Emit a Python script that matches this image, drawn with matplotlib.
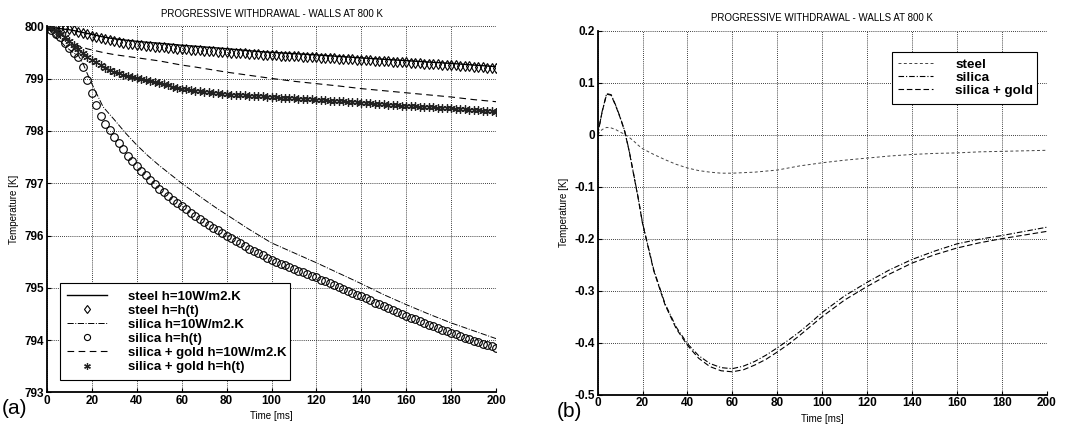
import matplotlib
matplotlib.use("Agg")
import matplotlib.pyplot as plt
from matplotlib.ticker import FuncFormatter

plt.rcParams['font.family'] = ['Liberation Sans', 'DejaVu Sans']
plt.rcParams['axes.unicode_minus'] = False

# ---------------- data ----------------
t_mark = list(range(0, 201, 2))
t_line = [0, 2, 4, 6, 8, 10, 12, 14, 16, 18, 20, 25, 30, 35, 40, 45, 50, 55, 60, 65,
          70, 75, 80, 85, 90, 95, 100, 110, 120, 130, 140, 150, 160, 170, 180, 190, 200]

steel_h10 = [800.0, 799.985, 799.97, 799.957, 799.945, 799.935, 799.92, 799.90, 799.882,
             799.865, 799.847, 799.798, 799.763, 799.737, 799.714, 799.694, 799.677,
             799.659, 799.639, 799.623, 799.607, 799.59, 799.573, 799.554, 799.535,
             799.517, 799.504, 799.479, 799.455, 799.426, 799.398, 799.371, 799.345,
             799.318, 799.292, 799.261, 799.23]

steel_ht = [800.00, 799.995, 799.985, 799.975, 799.96, 799.945, 799.925, 799.90, 799.875,
            799.85, 799.825, 799.80, 799.775, 799.755, 799.735, 799.715, 799.70, 799.685,
            799.672, 799.66, 799.65, 799.64, 799.63, 799.62, 799.612, 799.605, 799.597,
            799.59, 799.582, 799.574, 799.566, 799.56, 799.553, 799.547, 799.541, 799.535,
            799.529, 799.523, 799.517, 799.511, 799.505, 799.50, 799.494, 799.488, 799.482,
            799.476, 799.47, 799.465, 799.46, 799.455, 799.45, 799.446, 799.442, 799.438,
            799.434, 799.43, 799.426, 799.422, 799.418, 799.414, 799.41, 799.405, 799.40,
            799.395, 799.39, 799.385, 799.38, 799.375, 799.37, 799.365, 799.36, 799.355,
            799.35, 799.345, 799.34, 799.335, 799.33, 799.325, 799.32, 799.315, 799.31,
            799.305, 799.30, 799.295, 799.29, 799.285, 799.28, 799.275, 799.27, 799.265,
            799.26, 799.254, 799.248, 799.242, 799.236, 799.23, 799.224, 799.218, 799.212,
            799.206, 799.20]

silica_h10 = [800.0, 799.885, 799.78, 799.715, 799.625, 799.555, 799.49, 799.44, 799.295,
              799.09, 798.90, 798.46, 798.215, 797.96, 797.73, 797.525, 797.34, 797.17,
              797.00, 796.845, 796.69, 796.54, 796.40, 796.26, 796.12, 795.99, 795.86,
              795.67, 795.48, 795.28, 795.08, 794.87, 794.68, 794.50, 794.33, 794.18, 794.03]

silica_ht = [800.00, 799.93, 799.86, 799.79, 799.68, 799.59, 799.50, 799.41, 799.22, 798.97,
             798.73, 798.50, 798.28, 798.13, 798.01, 797.89, 797.77, 797.65, 797.53, 797.42,
             797.33, 797.24, 797.15, 797.06, 796.98, 796.90, 796.83, 796.76, 796.69, 796.62,
             796.56, 796.50, 796.44, 796.38, 796.32, 796.26, 796.21, 796.15, 796.10, 796.05,
             796.00, 795.95, 795.90, 795.85, 795.80, 795.75, 795.71, 795.66, 795.62, 795.57,
             795.53, 795.50, 795.46, 795.43, 795.39, 795.36, 795.33, 795.30, 795.26, 795.23,
             795.20, 795.16, 795.13, 795.09, 795.05, 795.02, 794.98, 794.94, 794.91, 794.87,
             794.84, 794.80, 794.76, 794.72, 794.69, 794.65, 794.61, 794.57, 794.54, 794.50,
             794.47, 794.43, 794.40, 794.37, 794.33, 794.30, 794.27, 794.24, 794.20, 794.17,
             794.14, 794.11, 794.08, 794.05, 794.02, 793.99, 793.96, 793.93, 793.90, 793.88,
             793.85]

gold_h10 = [800.0, 799.93, 799.85, 799.79, 799.75, 799.70, 799.66, 799.63, 799.60, 799.57,
            799.55, 799.50, 799.46, 799.43, 799.40, 799.37, 799.34, 799.30, 799.26, 799.23,
            799.195, 799.16, 799.125, 799.095, 799.065, 799.035, 799.005, 798.95, 798.905,
            798.86, 798.81, 798.77, 798.73, 798.69, 798.65, 798.60, 798.56]

gold_ht = [800.00, 799.97, 799.92, 799.86, 799.80, 799.72, 799.64, 799.57, 799.50, 799.42,
           799.36, 799.31, 799.26, 799.21, 799.17, 799.13, 799.10, 799.07, 799.05, 799.03,
           799.01, 798.99, 798.97, 798.95, 798.93, 798.91, 798.89, 798.87, 798.85, 798.83,
           798.81, 798.80, 798.78, 798.77, 798.76, 798.75, 798.74, 798.73, 798.72, 798.71,
           798.70, 798.695, 798.69, 798.685, 798.68, 798.675, 798.67, 798.665, 798.66, 798.655,
           798.645, 798.641, 798.637, 798.633, 798.629, 798.625, 798.62, 798.615, 798.61, 798.605,
           798.60, 798.594, 798.588, 798.582, 798.576, 798.57, 798.564, 798.558, 798.552, 798.546,
           798.54, 798.534, 798.528, 798.522, 798.516, 798.51, 798.504, 798.498, 798.492, 798.486,
           798.48, 798.475, 798.47, 798.465, 798.46, 798.455, 798.45, 798.445, 798.44, 798.435,
           798.43, 798.424, 798.418, 798.412, 798.406, 798.40, 798.394, 798.388, 798.382, 798.376,
           798.37]

steel_diff = [0.0, 0.010, 0.014, 0.013, 0.010, 0.005, 0.001, -0.005, -0.012, -0.020, -0.027,
              -0.038, -0.048, -0.057, -0.064, -0.069, -0.072, -0.074, -0.074, -0.073, -0.072,
              -0.070, -0.068, -0.064, -0.060, -0.057, -0.054, -0.049, -0.045, -0.041, -0.038,
              -0.036, -0.035, -0.033, -0.032, -0.031, -0.030]
silica_diff = [0.0, 0.045, 0.079, 0.077, 0.057, 0.034, 0.008, -0.030, -0.075, -0.120, -0.170,
               -0.260, -0.325, -0.370, -0.402, -0.425, -0.440, -0.448, -0.450, -0.445, -0.436,
               -0.424, -0.410, -0.395, -0.379, -0.361, -0.342, -0.310, -0.284, -0.260, -0.240,
               -0.224, -0.210, -0.201, -0.194, -0.186, -0.178]
gold_diff = [0.0, 0.044, 0.078, 0.076, 0.056, 0.033, 0.007, -0.031, -0.076, -0.121, -0.171,
             -0.262, -0.327, -0.373, -0.405, -0.430, -0.446, -0.454, -0.456, -0.452, -0.443,
             -0.432, -0.418, -0.403, -0.386, -0.368, -0.350, -0.318, -0.292, -0.268, -0.247,
             -0.231, -0.218, -0.208, -0.200, -0.193, -0.186]

x_ticks = list(range(0, 201, 20))
ya_ticks = [793, 794, 795, 796, 797, 798, 799, 800]
yb_ticks = [-0.5, -0.4, -0.3, -0.2, -0.1, 0.0, 0.1, 0.2]

title = 'PROGRESSIVE WITHDRAWAL - WALLS AT 800 K'

# ---------------- figure ----------------
fig = plt.figure(figsize=(10.73, 4.29), dpi=100)
axA = fig.add_axes([0.0438, 0.0851, 0.4185, 0.8534])
axB = fig.add_axes([0.5570, 0.0800, 0.4184, 0.8484])

ASTERISK = (6, 2, 0)


def style(ax):
    for s in ['top', 'right']:
        ax.spines[s].set_visible(False)
    for s in ['left', 'bottom']:
        ax.spines[s].set_linewidth(1.3)
    ax.grid(True, linestyle=(0, (1, 1.5)), color='black', linewidth=0.6)
    ax.tick_params(direction='in', length=3, width=0.8, labelsize=8.5, pad=2)
    for lab in ax.get_xticklabels() + ax.get_yticklabels():
        lab.set_fontweight('bold')
    ax.set_xlim(0, 200)
    ax.set_xticks(x_ticks)


# ---- panel (a) ----
ax = axA
ax.plot(t_line, steel_h10, '-', color='black', lw=1.0, label='steel h=10W/m2.K')
ax.plot(t_mark, steel_ht, 'd', mfc='none', mec='black', ms=5.5, mew=0.8, label='steel h=h(t)')
ax.plot(t_line, silica_h10, '-.', color='black', lw=0.7, label='silica h=10W/m2.K')
ax.plot(t_mark, silica_ht, 'o', mfc='none', mec='black', ms=5.5, mew=0.8, label='silica h=h(t)')
ax.plot(t_line, gold_h10, '--', color='black', lw=0.8, dashes=(6, 4), label='silica + gold h=10W/m2.K')
ax.plot(t_mark, gold_ht, marker=ASTERISK, linestyle='none', color='#222222', ms=6, mew=0.9,
        label='silica + gold h=h(t)')
ax.set_ylim(793, 800)
ax.set_yticks(ya_ticks)
ax.yaxis.set_major_formatter(FuncFormatter(lambda v, p: '%d' % round(v)))
style(ax)
ax.set_title(title, fontsize=7, pad=7)
ax.set_xlabel('Time [ms]', fontsize=7, labelpad=3)
ax.set_ylabel('Temperature [K]', fontsize=7, labelpad=4)
legA = ax.legend(loc='lower left', bbox_to_anchor=(0.029, 0.033, 0.512, 0.328), mode='expand',
                 fontsize=9.5, frameon=True, fancybox=False, edgecolor='black', framealpha=1,
                 handlelength=3.0, handletextpad=1.6, labelspacing=0.14, borderpad=0.55,
                 borderaxespad=0, markerscale=0.8)
legA.get_frame().set_linewidth(0.8)
for txt in legA.get_texts():
    txt.set_fontweight('bold')

# ---- panel (b) ----
ax = axB
ax.plot(t_line, steel_diff, '--', color='#444444', lw=0.7, dashes=(3, 2.5), label='steel')
ax.plot(t_line, silica_diff, '-.', color='black', lw=0.8, dashes=(5, 1.8, 1, 1.8), label='silica')
ax.plot(t_line, gold_diff, '--', color='black', lw=0.8, dashes=(5, 2.5), label='silica + gold')
ax.set_ylim(-0.5, 0.2)
ax.set_yticks(yb_ticks)
ax.yaxis.set_major_formatter(FuncFormatter(lambda v, p: '0' if abs(v) < 1e-9 else ('%.1f' % v)))
style(ax)
ax.set_title(title, fontsize=7, pad=7)
ax.set_xlabel('Time [ms]', fontsize=7, labelpad=3)
ax.set_ylabel('Temperature [K]', fontsize=7, labelpad=4)
legB = ax.legend(loc='upper left', bbox_to_anchor=(0.655, 0.812, 0.323, 0.130), mode='expand',
                 fontsize=9.7, frameon=True, fancybox=False, edgecolor='black', framealpha=1,
                 handlelength=2.6, handletextpad=1.6, labelspacing=0.05, borderpad=0.5,
                 borderaxespad=0)
legB.get_frame().set_linewidth(0.8)
for txt in legB.get_texts():
    txt.set_fontweight('bold')

fig.text(0.002, 0.048, '(a)', fontsize=15, ha='left', va='center')
fig.text(0.519, 0.040, '(b)', fontsize=15, ha='left', va='center')

fig.savefig('out.png', dpi=100)
